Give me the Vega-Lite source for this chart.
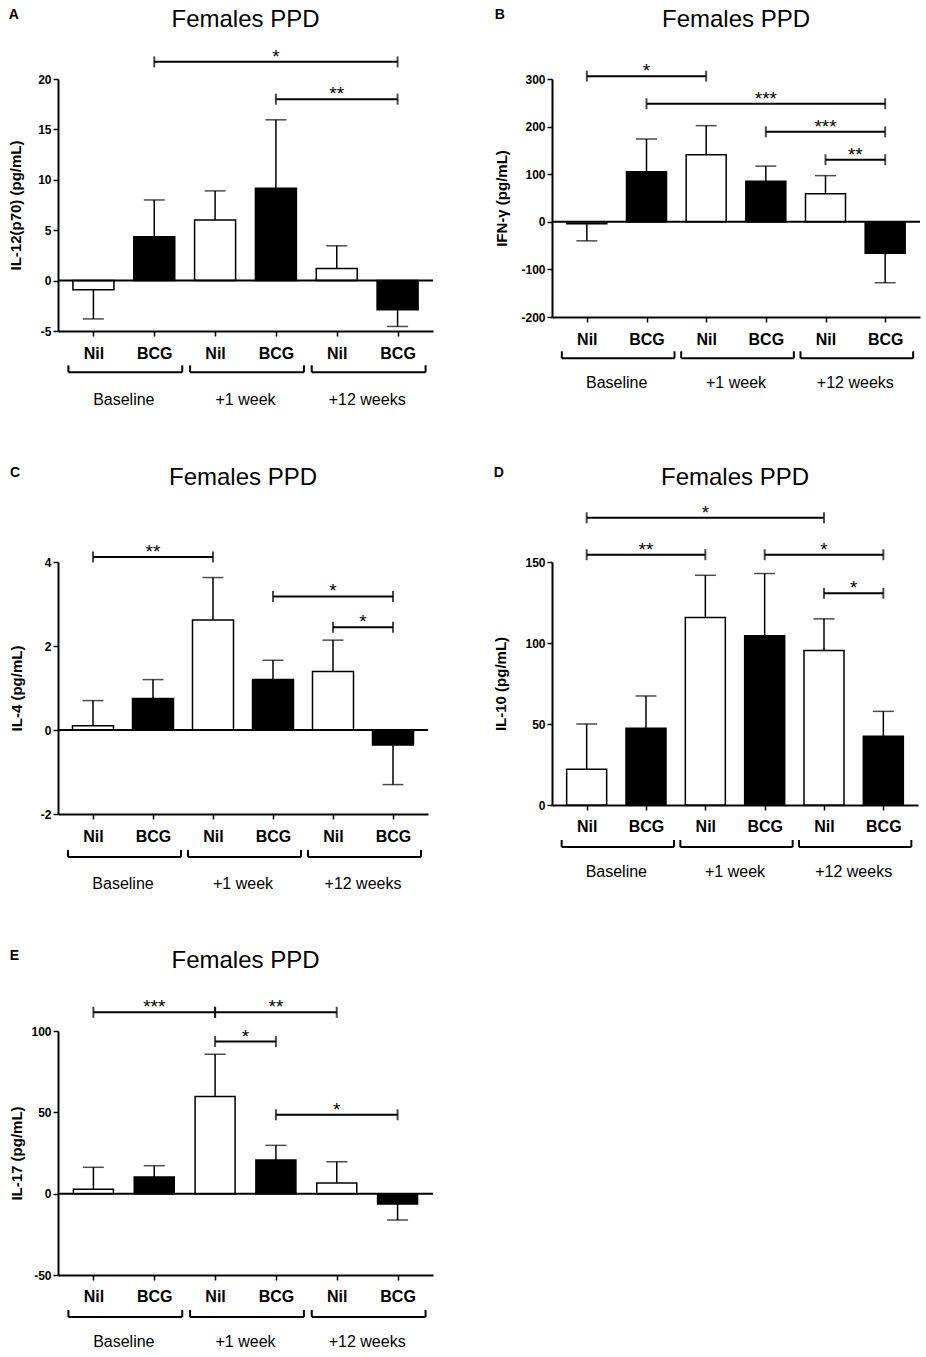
{
"$schema": "https://vega.github.io/schema/vega-lite/v6.json",
"padding": {"left": 8, "top": 7, "right": 4, "bottom": 4},
"columns": 2,
"align": "each",
"bounds": "full",
"spacing": {"row": 57, "column": 59},
"datasets": {
"groups": [{"period":"Baseline","start":0,"end":1,"mid":0.5},{"period":"+1 week","start":2,"end":3,"mid":2.5},{"period":"+12 weeks","start":4,"end":5,"mid":4.5}],
"A_bars": [
{"pos":0,"period":"Baseline","stim":"Nil","mean":-0.9,"err":-3.8},
{"pos":1,"period":"Baseline","stim":"BCG","mean":4.35,"err":8.0},
{"pos":2,"period":"+1 week","stim":"Nil","mean":6.0,"err":8.9},
{"pos":3,"period":"+1 week","stim":"BCG","mean":9.15,"err":15.95},
{"pos":4,"period":"+12 weeks","stim":"Nil","mean":1.2,"err":3.45},
{"pos":5,"period":"+12 weeks","stim":"BCG","mean":-2.9,"err":-4.55}],
"A_sig": [{"from":1,"to":5,"mid":3,"level":21.7,"sig":"*"},{"from":3,"to":5,"mid":4,"level":18.0,"sig":"**"}],
"B_bars": [
{"pos":0,"period":"Baseline","stim":"Nil","mean":-4,"err":-40},
{"pos":1,"period":"Baseline","stim":"BCG","mean":105,"err":174},
{"pos":2,"period":"+1 week","stim":"Nil","mean":141,"err":202},
{"pos":3,"period":"+1 week","stim":"BCG","mean":85,"err":117},
{"pos":4,"period":"+12 weeks","stim":"Nil","mean":59,"err":97},
{"pos":5,"period":"+12 weeks","stim":"BCG","mean":-66,"err":-128}],
"B_sig": [{"from":0,"to":2,"mid":1,"level":306,"sig":"*"},{"from":1,"to":5,"mid":3,"level":248,"sig":"***"},{"from":3,"to":5,"mid":4,"level":189,"sig":"***"},{"from":4,"to":5,"mid":4.5,"level":130.5,"sig":"**"}],
"C_bars": [
{"pos":0,"period":"Baseline","stim":"Nil","mean":0.1,"err":0.7},
{"pos":1,"period":"Baseline","stim":"BCG","mean":0.75,"err":1.2},
{"pos":2,"period":"+1 week","stim":"Nil","mean":2.62,"err":3.63},
{"pos":3,"period":"+1 week","stim":"BCG","mean":1.2,"err":1.66},
{"pos":4,"period":"+12 weeks","stim":"Nil","mean":1.39,"err":2.14},
{"pos":5,"period":"+12 weeks","stim":"BCG","mean":-0.36,"err":-1.3}],
"C_sig": [{"from":0,"to":2,"mid":1,"level":4.12,"sig":"**"},{"from":3,"to":5,"mid":4,"level":3.18,"sig":"*"},{"from":4,"to":5,"mid":4.5,"level":2.445,"sig":"*"}],
"D_bars": [
{"pos":0,"period":"Baseline","stim":"Nil","mean":22,"err":50},
{"pos":1,"period":"Baseline","stim":"BCG","mean":47.3,"err":67.3},
{"pos":2,"period":"+1 week","stim":"Nil","mean":115.7,"err":141.8},
{"pos":3,"period":"+1 week","stim":"BCG","mean":104.5,"err":142.9},
{"pos":4,"period":"+12 weeks","stim":"Nil","mean":95.3,"err":114.9},
{"pos":5,"period":"+12 weeks","stim":"BCG","mean":42.4,"err":57.8}],
"D_sig": [{"from":0,"to":4,"mid":2,"level":177.3,"sig":"*"},{"from":0,"to":2,"mid":1,"level":154.5,"sig":"**"},{"from":3,"to":5,"mid":4,"level":154.5,"sig":"*"},{"from":4,"to":5,"mid":4.5,"level":130.7,"sig":"*"}],
"E_bars": [
{"pos":0,"period":"Baseline","stim":"Nil","mean":2.7,"err":16.2},
{"pos":1,"period":"Baseline","stim":"BCG","mean":10.2,"err":17.2},
{"pos":2,"period":"+1 week","stim":"Nil","mean":59.7,"err":85.7},
{"pos":3,"period":"+1 week","stim":"BCG","mean":20.7,"err":29.7},
{"pos":4,"period":"+12 weeks","stim":"Nil","mean":6.5,"err":19.6},
{"pos":5,"period":"+12 weeks","stim":"BCG","mean":-6.3,"err":-16.2}],
"E_sig": [{"from":0,"to":2,"mid":1,"level":111.5,"sig":"***"},{"from":2,"to":4,"mid":3,"level":111.5,"sig":"**"},{"from":2,"to":3,"mid":2.5,"level":93.5,"sig":"*"},{"from":3,"to":5,"mid":4,"level":48.5,"sig":"*"}]
},
"concat": [
{"title": {"text": "A", "anchor": "start", "frame": "bounds", "fontSize": 14, "fontWeight": "bold", "baseline": "alphabetic", "offset": -25.2},
 "vconcat": [{
  "title": {"text": "Females PPD", "anchor": "middle", "frame": "group", "fontSize": 24, "fontWeight": "normal", "baseline": "alphabetic", "offset": -3.0},
  "width": 375, "height": 252,
  "layer": [
   {"data": {"name": "A_bars"}, "mark": {"type": "bar", "orient": "vertical", "size": 41, "stroke": "black", "strokeWidth": 1.5},
    "encoding": {
     "x": {"field": "pos", "type": "quantitative", "scale": {"domain": [-0.5, 5.5], "nice": false, "zero": false}, "axis": {"values": [0,1,2,3,4,5], "labelExpr": "datum.value % 2 == 0 ? 'Nil' : 'BCG'", "title": null, "labelPadding": 9, "labelFlush": false, "labelOverlap": false}},
     "y": {"field": "mean", "type": "quantitative", "scale": {"domain": [-5, 20], "nice": false, "zero": false}, "axis": {"values": [-5,0,5,10,15,20], "labelExpr": "'' + datum.value", "title": "IL-12(p70) (pg/mL)", "titlePadding": 13.85, "labelOverlap": false}},
     "y2": {"datum": 0},
     "fill": {"field": "stim", "type": "nominal", "scale": {"domain": ["Nil","BCG"], "range": ["white","black"]}, "legend": null}}},
   {"data": {"name": "A_bars"}, "mark": {"type": "rule", "color": "black", "strokeWidth": 1.5},
    "encoding": {"x": {"field": "pos", "type": "quantitative"}, "y": {"field": "mean", "type": "quantitative"}, "y2": {"field": "err"}}},
   {"data": {"name": "A_bars"}, "mark": {"type": "tick", "orient": "horizontal", "size": 21, "thickness": 1.5, "color": "black"},
    "encoding": {"x": {"field": "pos", "type": "quantitative"}, "y": {"field": "err", "type": "quantitative"}}},
   {"data": {"values": [{}]}, "mark": {"type": "rule", "color": "black", "strokeWidth": 2}, "encoding": {"y": {"datum": 0}}},
   {"data": {"name": "A_sig"}, "mark": {"type": "rule", "color": "black", "strokeWidth": 2},
    "encoding": {"x": {"field": "from", "type": "quantitative"}, "x2": {"field": "to"}, "y": {"field": "level", "type": "quantitative", "scale": {"domain": [-5, 20]}}}},
   {"data": {"name": "A_sig"}, "mark": {"type": "tick", "orient": "vertical", "size": 11, "thickness": 2, "color": "black"},
    "encoding": {"x": {"field": "from", "type": "quantitative"}, "y": {"field": "level", "type": "quantitative", "scale": {"domain": [-5, 20]}}}},
   {"data": {"name": "A_sig"}, "mark": {"type": "tick", "orient": "vertical", "size": 11, "thickness": 2, "color": "black"},
    "encoding": {"x": {"field": "to", "type": "quantitative"}, "y": {"field": "level", "type": "quantitative", "scale": {"domain": [-5, 20]}}}},
   {"data": {"name": "A_sig"}, "mark": {"type": "text", "baseline": "alphabetic", "dy": 1, "fontSize": 19, "color": "black"},
    "encoding": {"x": {"field": "mid", "type": "quantitative"}, "y": {"field": "level", "type": "quantitative", "scale": {"domain": [-5, 20]}}, "text": {"field": "sig"}}},
   {"data": {"name": "groups"}, "mark": {"type": "rule", "color": "black", "strokeWidth": 2, "xOffset": -25, "x2Offset": 28, "yOffset": 41.3},
    "encoding": {"x": {"field": "start", "type": "quantitative"}, "x2": {"field": "end"}, "y": {"datum": -5}}},
   {"data": {"name": "groups"}, "mark": {"type": "rule", "color": "black", "strokeWidth": 2, "xOffset": -25, "yOffset": 41.3, "y2Offset": 34.3},
    "encoding": {"x": {"field": "start", "type": "quantitative"}, "y": {"datum": -5}, "y2": {"datum": -5}}},
   {"data": {"name": "groups"}, "mark": {"type": "rule", "color": "black", "strokeWidth": 2, "xOffset": 28, "yOffset": 41.3, "y2Offset": 34.3},
    "encoding": {"x": {"field": "end", "type": "quantitative"}, "y": {"datum": -5}, "y2": {"datum": -5}}},
   {"data": {"name": "groups"}, "mark": {"type": "text", "baseline": "alphabetic", "dy": 74, "fontSize": 16, "color": "black"},
    "encoding": {"x": {"field": "mid", "type": "quantitative"}, "y": {"datum": -5}, "text": {"field": "period"}}}
  ]}]},
{"title": {"text": "B", "anchor": "start", "frame": "bounds", "fontSize": 14, "fontWeight": "bold", "baseline": "alphabetic", "offset": -25.2},
 "vconcat": [{
  "title": {"text": "Females PPD", "anchor": "middle", "frame": "group", "fontSize": 24, "fontWeight": "normal", "baseline": "alphabetic", "offset": 11.0},
  "width": 368, "height": 238,
  "layer": [
   {"data": {"name": "B_bars"}, "mark": {"type": "bar", "orient": "vertical", "size": 40, "stroke": "black", "strokeWidth": 1.5},
    "encoding": {
     "x": {"field": "pos", "type": "quantitative", "scale": {"domain": [-0.5, 5.5], "nice": false, "zero": false}, "axis": {"values": [0,1,2,3,4,5], "labelExpr": "datum.value % 2 == 0 ? 'Nil' : 'BCG'", "title": null, "labelPadding": 9, "labelFlush": false, "labelOverlap": false}},
     "y": {"field": "mean", "type": "quantitative", "scale": {"domain": [-200, 300], "nice": false, "zero": false}, "axis": {"values": [-200,-100,0,100,200,300], "labelExpr": "'' + datum.value", "title": "IFN-γ (pg/mL)", "titlePadding": 11.15, "labelOverlap": false}},
     "y2": {"datum": 0},
     "fill": {"field": "stim", "type": "nominal", "scale": {"domain": ["Nil","BCG"], "range": ["white","black"]}, "legend": null}}},
   {"data": {"name": "B_bars"}, "mark": {"type": "rule", "color": "black", "strokeWidth": 1.5},
    "encoding": {"x": {"field": "pos", "type": "quantitative"}, "y": {"field": "mean", "type": "quantitative"}, "y2": {"field": "err"}}},
   {"data": {"name": "B_bars"}, "mark": {"type": "tick", "orient": "horizontal", "size": 21, "thickness": 1.5, "color": "black"},
    "encoding": {"x": {"field": "pos", "type": "quantitative"}, "y": {"field": "err", "type": "quantitative"}}},
   {"data": {"values": [{}]}, "mark": {"type": "rule", "color": "black", "strokeWidth": 2}, "encoding": {"y": {"datum": 0}}},
   {"data": {"name": "B_sig"}, "mark": {"type": "rule", "color": "black", "strokeWidth": 2},
    "encoding": {"x": {"field": "from", "type": "quantitative"}, "x2": {"field": "to"}, "y": {"field": "level", "type": "quantitative", "scale": {"domain": [-200, 300]}}}},
   {"data": {"name": "B_sig"}, "mark": {"type": "tick", "orient": "vertical", "size": 11, "thickness": 2, "color": "black"},
    "encoding": {"x": {"field": "from", "type": "quantitative"}, "y": {"field": "level", "type": "quantitative", "scale": {"domain": [-200, 300]}}}},
   {"data": {"name": "B_sig"}, "mark": {"type": "tick", "orient": "vertical", "size": 11, "thickness": 2, "color": "black"},
    "encoding": {"x": {"field": "to", "type": "quantitative"}, "y": {"field": "level", "type": "quantitative", "scale": {"domain": [-200, 300]}}}},
   {"data": {"name": "B_sig"}, "mark": {"type": "text", "baseline": "alphabetic", "dy": 1, "fontSize": 19, "color": "black"},
    "encoding": {"x": {"field": "mid", "type": "quantitative"}, "y": {"field": "level", "type": "quantitative", "scale": {"domain": [-200, 300]}}, "text": {"field": "sig"}}},
   {"data": {"name": "groups"}, "mark": {"type": "rule", "color": "black", "strokeWidth": 2, "xOffset": -25, "x2Offset": 28, "yOffset": 41.3},
    "encoding": {"x": {"field": "start", "type": "quantitative"}, "x2": {"field": "end"}, "y": {"datum": -200}}},
   {"data": {"name": "groups"}, "mark": {"type": "rule", "color": "black", "strokeWidth": 2, "xOffset": -25, "yOffset": 41.3, "y2Offset": 34.3},
    "encoding": {"x": {"field": "start", "type": "quantitative"}, "y": {"datum": -200}, "y2": {"datum": -200}}},
   {"data": {"name": "groups"}, "mark": {"type": "rule", "color": "black", "strokeWidth": 2, "xOffset": 28, "yOffset": 41.3, "y2Offset": 34.3},
    "encoding": {"x": {"field": "end", "type": "quantitative"}, "y": {"datum": -200}, "y2": {"datum": -200}}},
   {"data": {"name": "groups"}, "mark": {"type": "text", "baseline": "alphabetic", "dy": 71.3, "fontSize": 16, "color": "black"},
    "encoding": {"x": {"field": "mid", "type": "quantitative"}, "y": {"datum": -200}, "text": {"field": "period"}}}
  ]}]},
{"title": {"text": "C", "anchor": "start", "frame": "bounds", "fontSize": 14, "fontWeight": "bold", "baseline": "alphabetic", "offset": -25.2},
 "vconcat": [{
  "title": {"text": "Females PPD", "anchor": "middle", "frame": "group", "fontSize": 24, "fontWeight": "normal", "baseline": "alphabetic", "offset": 34.1},
  "width": 370, "height": 252,
  "layer": [
   {"data": {"name": "C_bars"}, "mark": {"type": "bar", "orient": "vertical", "size": 41, "stroke": "black", "strokeWidth": 1.5},
    "encoding": {
     "x": {"field": "pos", "type": "quantitative", "scale": {"domain": [-0.5, 5.5], "nice": false, "zero": false}, "axis": {"values": [0,1,2,3,4,5], "labelExpr": "datum.value % 2 == 0 ? 'Nil' : 'BCG'", "title": null, "labelPadding": 9, "labelFlush": false, "labelOverlap": false}},
     "y": {"field": "mean", "type": "quantitative", "scale": {"domain": [-2, 4], "nice": false, "zero": false}, "axis": {"values": [-2,0,2,4], "labelExpr": "'' + datum.value", "title": "IL-4 (pg/mL)", "titlePadding": 15.45, "labelOverlap": false}},
     "y2": {"datum": 0},
     "fill": {"field": "stim", "type": "nominal", "scale": {"domain": ["Nil","BCG"], "range": ["white","black"]}, "legend": null}}},
   {"data": {"name": "C_bars"}, "mark": {"type": "rule", "color": "black", "strokeWidth": 1.5},
    "encoding": {"x": {"field": "pos", "type": "quantitative"}, "y": {"field": "mean", "type": "quantitative"}, "y2": {"field": "err"}}},
   {"data": {"name": "C_bars"}, "mark": {"type": "tick", "orient": "horizontal", "size": 21, "thickness": 1.5, "color": "black"},
    "encoding": {"x": {"field": "pos", "type": "quantitative"}, "y": {"field": "err", "type": "quantitative"}}},
   {"data": {"values": [{}]}, "mark": {"type": "rule", "color": "black", "strokeWidth": 2}, "encoding": {"y": {"datum": 0}}},
   {"data": {"name": "C_sig"}, "mark": {"type": "rule", "color": "black", "strokeWidth": 2},
    "encoding": {"x": {"field": "from", "type": "quantitative"}, "x2": {"field": "to"}, "y": {"field": "level", "type": "quantitative", "scale": {"domain": [-2, 4]}}}},
   {"data": {"name": "C_sig"}, "mark": {"type": "tick", "orient": "vertical", "size": 11, "thickness": 2, "color": "black"},
    "encoding": {"x": {"field": "from", "type": "quantitative"}, "y": {"field": "level", "type": "quantitative", "scale": {"domain": [-2, 4]}}}},
   {"data": {"name": "C_sig"}, "mark": {"type": "tick", "orient": "vertical", "size": 11, "thickness": 2, "color": "black"},
    "encoding": {"x": {"field": "to", "type": "quantitative"}, "y": {"field": "level", "type": "quantitative", "scale": {"domain": [-2, 4]}}}},
   {"data": {"name": "C_sig"}, "mark": {"type": "text", "baseline": "alphabetic", "dy": 1, "fontSize": 19, "color": "black"},
    "encoding": {"x": {"field": "mid", "type": "quantitative"}, "y": {"field": "level", "type": "quantitative", "scale": {"domain": [-2, 4]}}, "text": {"field": "sig"}}},
   {"data": {"name": "groups"}, "mark": {"type": "rule", "color": "black", "strokeWidth": 2, "xOffset": -25, "x2Offset": 28, "yOffset": 43},
    "encoding": {"x": {"field": "start", "type": "quantitative"}, "x2": {"field": "end"}, "y": {"datum": -2}}},
   {"data": {"name": "groups"}, "mark": {"type": "rule", "color": "black", "strokeWidth": 2, "xOffset": -25, "yOffset": 43, "y2Offset": 36},
    "encoding": {"x": {"field": "start", "type": "quantitative"}, "y": {"datum": -2}, "y2": {"datum": -2}}},
   {"data": {"name": "groups"}, "mark": {"type": "rule", "color": "black", "strokeWidth": 2, "xOffset": 28, "yOffset": 43, "y2Offset": 36},
    "encoding": {"x": {"field": "end", "type": "quantitative"}, "y": {"datum": -2}, "y2": {"datum": -2}}},
   {"data": {"name": "groups"}, "mark": {"type": "text", "baseline": "alphabetic", "dy": 74.7, "fontSize": 16, "color": "black"},
    "encoding": {"x": {"field": "mid", "type": "quantitative"}, "y": {"datum": -2}, "text": {"field": "period"}}}
  ]}]},
{"title": {"text": "D", "anchor": "start", "frame": "bounds", "fontSize": 14, "fontWeight": "bold", "baseline": "alphabetic", "offset": -25.2},
 "vconcat": [{
  "title": {"text": "Females PPD", "anchor": "middle", "frame": "group", "fontSize": 24, "fontWeight": "normal", "baseline": "alphabetic", "offset": -5.1},
  "width": 366, "height": 243,
  "layer": [
   {"data": {"name": "D_bars"}, "mark": {"type": "bar", "orient": "vertical", "size": 40, "stroke": "black", "strokeWidth": 1.5},
    "encoding": {
     "x": {"field": "pos", "type": "quantitative", "scale": {"domain": [-0.5, 5.5], "nice": false, "zero": false}, "axis": {"values": [0,1,2,3,4,5], "labelExpr": "datum.value % 2 == 0 ? 'Nil' : 'BCG'", "title": null, "labelPadding": 8, "labelFlush": false, "labelOverlap": false}},
     "y": {"field": "mean", "type": "quantitative", "scale": {"domain": [0, 150], "nice": false, "zero": false}, "axis": {"values": [0,50,100,150], "labelExpr": "'' + datum.value", "title": "IL-10 (pg/mL)", "titlePadding": 16.15, "labelOverlap": false}},
     "y2": {"datum": 0},
     "fill": {"field": "stim", "type": "nominal", "scale": {"domain": ["Nil","BCG"], "range": ["white","black"]}, "legend": null}}},
   {"data": {"name": "D_bars"}, "mark": {"type": "rule", "color": "black", "strokeWidth": 1.5},
    "encoding": {"x": {"field": "pos", "type": "quantitative"}, "y": {"field": "mean", "type": "quantitative"}, "y2": {"field": "err"}}},
   {"data": {"name": "D_bars"}, "mark": {"type": "tick", "orient": "horizontal", "size": 21, "thickness": 1.5, "color": "black"},
    "encoding": {"x": {"field": "pos", "type": "quantitative"}, "y": {"field": "err", "type": "quantitative"}}},
   {"data": {"name": "D_sig"}, "mark": {"type": "rule", "color": "black", "strokeWidth": 2},
    "encoding": {"x": {"field": "from", "type": "quantitative"}, "x2": {"field": "to"}, "y": {"field": "level", "type": "quantitative", "scale": {"domain": [0, 150]}}}},
   {"data": {"name": "D_sig"}, "mark": {"type": "tick", "orient": "vertical", "size": 11, "thickness": 2, "color": "black"},
    "encoding": {"x": {"field": "from", "type": "quantitative"}, "y": {"field": "level", "type": "quantitative", "scale": {"domain": [0, 150]}}}},
   {"data": {"name": "D_sig"}, "mark": {"type": "tick", "orient": "vertical", "size": 11, "thickness": 2, "color": "black"},
    "encoding": {"x": {"field": "to", "type": "quantitative"}, "y": {"field": "level", "type": "quantitative", "scale": {"domain": [0, 150]}}}},
   {"data": {"name": "D_sig"}, "mark": {"type": "text", "baseline": "alphabetic", "dy": 1, "fontSize": 19, "color": "black"},
    "encoding": {"x": {"field": "mid", "type": "quantitative"}, "y": {"field": "level", "type": "quantitative", "scale": {"domain": [0, 150]}}, "text": {"field": "sig"}}},
   {"data": {"name": "groups"}, "mark": {"type": "rule", "color": "black", "strokeWidth": 2, "xOffset": -25, "x2Offset": 28, "yOffset": 42},
    "encoding": {"x": {"field": "start", "type": "quantitative"}, "x2": {"field": "end"}, "y": {"datum": 0}}},
   {"data": {"name": "groups"}, "mark": {"type": "rule", "color": "black", "strokeWidth": 2, "xOffset": -25, "yOffset": 42, "y2Offset": 35},
    "encoding": {"x": {"field": "start", "type": "quantitative"}, "y": {"datum": 0}, "y2": {"datum": 0}}},
   {"data": {"name": "groups"}, "mark": {"type": "rule", "color": "black", "strokeWidth": 2, "xOffset": 28, "yOffset": 42, "y2Offset": 35},
    "encoding": {"x": {"field": "end", "type": "quantitative"}, "y": {"datum": 0}, "y2": {"datum": 0}}},
   {"data": {"name": "groups"}, "mark": {"type": "text", "baseline": "alphabetic", "dy": 72, "fontSize": 16, "color": "black"},
    "encoding": {"x": {"field": "mid", "type": "quantitative"}, "y": {"datum": 0}, "text": {"field": "period"}}}
  ]}]},
{"title": {"text": "E", "anchor": "start", "frame": "bounds", "fontSize": 14, "fontWeight": "bold", "baseline": "alphabetic", "offset": -25.2},
 "vconcat": [{
  "title": {"text": "Females PPD", "anchor": "middle", "frame": "group", "fontSize": 24, "fontWeight": "normal", "baseline": "alphabetic", "offset": 6.2},
  "width": 375, "height": 244,
  "layer": [
   {"data": {"name": "E_bars"}, "mark": {"type": "bar", "orient": "vertical", "size": 40, "stroke": "black", "strokeWidth": 1.5},
    "encoding": {
     "x": {"field": "pos", "type": "quantitative", "scale": {"domain": [-0.5, 5.5], "nice": false, "zero": false}, "axis": {"values": [0,1,2,3,4,5], "labelExpr": "datum.value % 2 == 0 ? 'Nil' : 'BCG'", "title": null, "labelPadding": 8, "labelFlush": false, "labelOverlap": false}},
     "y": {"field": "mean", "type": "quantitative", "scale": {"domain": [-50, 100], "nice": false, "zero": false}, "axis": {"values": [-50,0,50,100], "labelExpr": "'' + datum.value", "title": "IL-17 (pg/mL)", "titlePadding": 6.15, "labelOverlap": false}},
     "y2": {"datum": 0},
     "fill": {"field": "stim", "type": "nominal", "scale": {"domain": ["Nil","BCG"], "range": ["white","black"]}, "legend": null}}},
   {"data": {"name": "E_bars"}, "mark": {"type": "rule", "color": "black", "strokeWidth": 1.5},
    "encoding": {"x": {"field": "pos", "type": "quantitative"}, "y": {"field": "mean", "type": "quantitative"}, "y2": {"field": "err"}}},
   {"data": {"name": "E_bars"}, "mark": {"type": "tick", "orient": "horizontal", "size": 21, "thickness": 1.5, "color": "black"},
    "encoding": {"x": {"field": "pos", "type": "quantitative"}, "y": {"field": "err", "type": "quantitative"}}},
   {"data": {"values": [{}]}, "mark": {"type": "rule", "color": "black", "strokeWidth": 2}, "encoding": {"y": {"datum": 0}}},
   {"data": {"name": "E_sig"}, "mark": {"type": "rule", "color": "black", "strokeWidth": 2},
    "encoding": {"x": {"field": "from", "type": "quantitative"}, "x2": {"field": "to"}, "y": {"field": "level", "type": "quantitative", "scale": {"domain": [-50, 100]}}}},
   {"data": {"name": "E_sig"}, "mark": {"type": "tick", "orient": "vertical", "size": 11, "thickness": 2, "color": "black"},
    "encoding": {"x": {"field": "from", "type": "quantitative"}, "y": {"field": "level", "type": "quantitative", "scale": {"domain": [-50, 100]}}}},
   {"data": {"name": "E_sig"}, "mark": {"type": "tick", "orient": "vertical", "size": 11, "thickness": 2, "color": "black"},
    "encoding": {"x": {"field": "to", "type": "quantitative"}, "y": {"field": "level", "type": "quantitative", "scale": {"domain": [-50, 100]}}}},
   {"data": {"name": "E_sig"}, "mark": {"type": "text", "baseline": "alphabetic", "dy": 1, "fontSize": 19, "color": "black"},
    "encoding": {"x": {"field": "mid", "type": "quantitative"}, "y": {"field": "level", "type": "quantitative", "scale": {"domain": [-50, 100]}}, "text": {"field": "sig"}}},
   {"data": {"name": "groups"}, "mark": {"type": "rule", "color": "black", "strokeWidth": 2, "xOffset": -25, "x2Offset": 28, "yOffset": 42},
    "encoding": {"x": {"field": "start", "type": "quantitative"}, "x2": {"field": "end"}, "y": {"datum": -50}}},
   {"data": {"name": "groups"}, "mark": {"type": "rule", "color": "black", "strokeWidth": 2, "xOffset": -25, "yOffset": 42, "y2Offset": 35},
    "encoding": {"x": {"field": "start", "type": "quantitative"}, "y": {"datum": -50}, "y2": {"datum": -50}}},
   {"data": {"name": "groups"}, "mark": {"type": "rule", "color": "black", "strokeWidth": 2, "xOffset": 28, "yOffset": 42, "y2Offset": 35},
    "encoding": {"x": {"field": "end", "type": "quantitative"}, "y": {"datum": -50}, "y2": {"datum": -50}}},
   {"data": {"name": "groups"}, "mark": {"type": "text", "baseline": "alphabetic", "dy": 72, "fontSize": 16, "color": "black"},
    "encoding": {"x": {"field": "mid", "type": "quantitative"}, "y": {"datum": -50}, "text": {"field": "period"}}}
  ]}]}
],
"config": {
 "view": {"stroke": null},
 "font": "Liberation Sans",
 "background": "white",
 "axis": {"domainColor": "black", "domainWidth": 2, "tickColor": "black", "tickWidth": 1.5, "tickSize": 5, "labelColor": "black", "labelFont": "Liberation Sans", "labelFontWeight": "bold", "titleColor": "black", "titleFont": "Liberation Sans", "titleFontWeight": "bold", "grid": false},
 "axisX": {"labelFontSize": 16, "labelAngle": 0},
 "axisY": {"labelFontSize": 12, "titleFontSize": 15, "labelPadding": 2, "minExtent": 0},
 "title": {"font": "Liberation Sans", "color": "black"},
 "text": {"font": "Liberation Sans"}
}
}
